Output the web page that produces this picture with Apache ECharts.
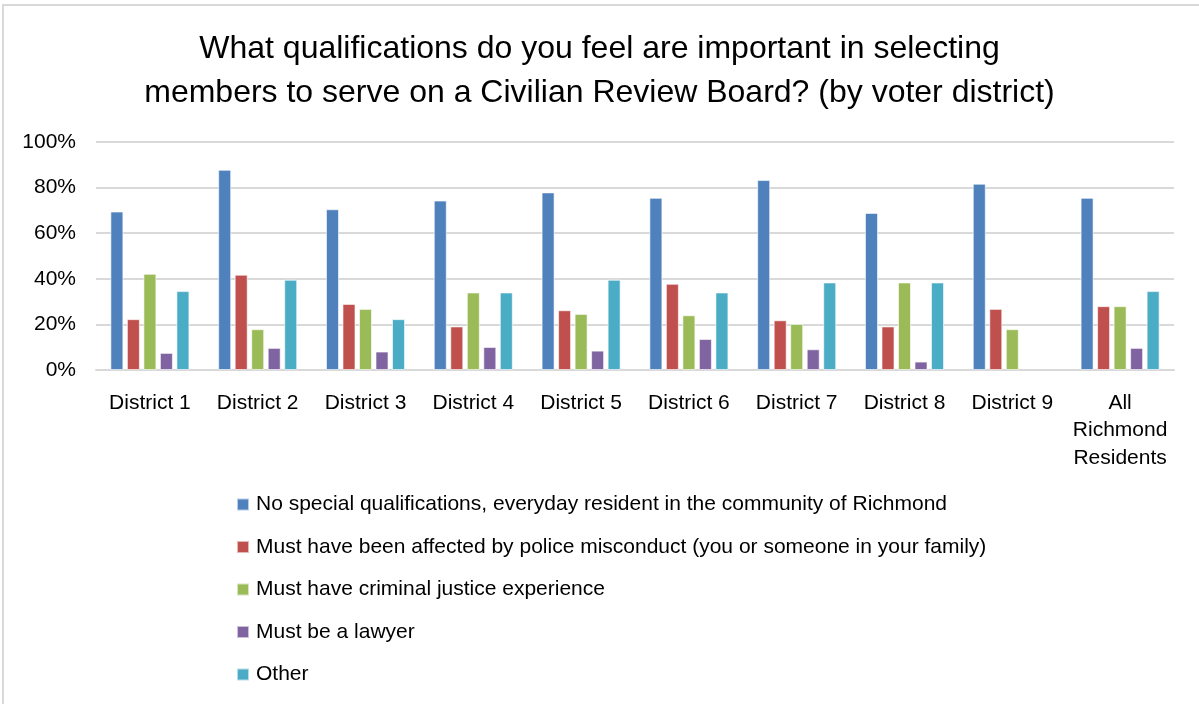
<!DOCTYPE html>
<html><head><meta charset="utf-8">
<script src="https://cdn.jsdelivr.net/npm/echarts@6/dist/echarts.min.js"></script>
<style>html,body{margin:0;padding:0;background:#fff}#c{width:1199px;height:704px}</style>
</head><body><div id="c"></div>
<script>
const categories = ['District 1','District 2','District 3','District 4','District 5','District 6','District 7','District 8','District 9','All\nRichmond\nResidents'];
const seriesNames = ['No special qualifications, everyday resident in the community of Richmond','Must have been affected by police misconduct (you or someone in your family)','Must have criminal justice experience','Must be a lawyer','Other'];
const noSpecial = [0.695,0.878,0.705,0.743,0.779,0.755,0.833,0.689,0.817,0.755];
const affected = [0.223,0.418,0.290,0.191,0.262,0.378,0.218,0.191,0.268,0.280];
const criminalJustice = [0.422,0.179,0.268,0.340,0.246,0.240,0.202,0.384,0.179,0.280];
const lawyer = [0.075,0.097,0.081,0.101,0.085,0.136,0.091,0.037,null,0.097];
const other = [0.346,0.396,0.223,0.340,0.396,0.340,0.384,0.384,null,0.346];
const yTicks = [0,0.2,0.4,0.6,0.8,1.0];
const colors = ['#4f81bd','#c0504d','#9bbb59','#8064a2','#4bacc6'];
const values = [noSpecial, affected, criminalJustice, lawyer, other];
const FONT = '"Liberation Sans",sans-serif';

const chart = echarts.init(document.getElementById('c'), null, {renderer:'canvas'});
chart.setOption({
  animation:false,
  backgroundColor:'#fff',
  graphic:[{type:'rect', shape:{x:3,y:5,width:1250,height:750}, style:{fill:'none', stroke:'#d9d9d9', lineWidth:2}}],
  title:{text:'What qualifications do you feel are important in selecting\nmembers to serve on a Civilian Review Board? (by voter district)', left:'center', top:22,
    textStyle:{fontFamily:FONT, fontSize:32, fontWeight:'normal', color:'#000', lineHeight:44}},
  legend:{orient:'vertical', left:231, top:489, itemWidth:12, itemHeight:12, itemGap:21.5, icon:'rect',
    textStyle:{fontFamily:FONT, fontSize:21, color:'#000', padding:[0,0,0,2]}, data:seriesNames},
  grid:{left:96, right:25, top:142, bottom:334, containLabel:false},
  xAxis:{type:'category', data:categories,
    axisLine:{lineStyle:{color:'#d9d9d9', width:2}}, axisTick:{show:false},
    axisLabel:{fontFamily:FONT, fontSize:21, color:'#000', margin:19, lineHeight:27.5, interval:0}},
  yAxis:{type:'value', min:0, max:1, interval:0.2,
    axisLine:{show:false}, axisTick:{show:false},
    splitLine:{lineStyle:{color:'#d9d9d9', width:2}},
    axisLabel:{fontFamily:FONT, fontSize:21, color:'#000', margin:20,
      formatter:v=>{const t=yTicks.find(x=>Math.abs(x-v)<1e-9); return Math.round((t!==undefined?t:v)*100)+'%';}}},
  series: seriesNames.map((n,i)=>({name:n, type:'bar', data:values[i], barWidth:13, barGap:'27%', barCategoryGap:'27%',
    itemStyle:{color:colors[i], borderColor:'rgba(255,255,255,0.6)', borderWidth:1}}))
});
</script></body></html>
